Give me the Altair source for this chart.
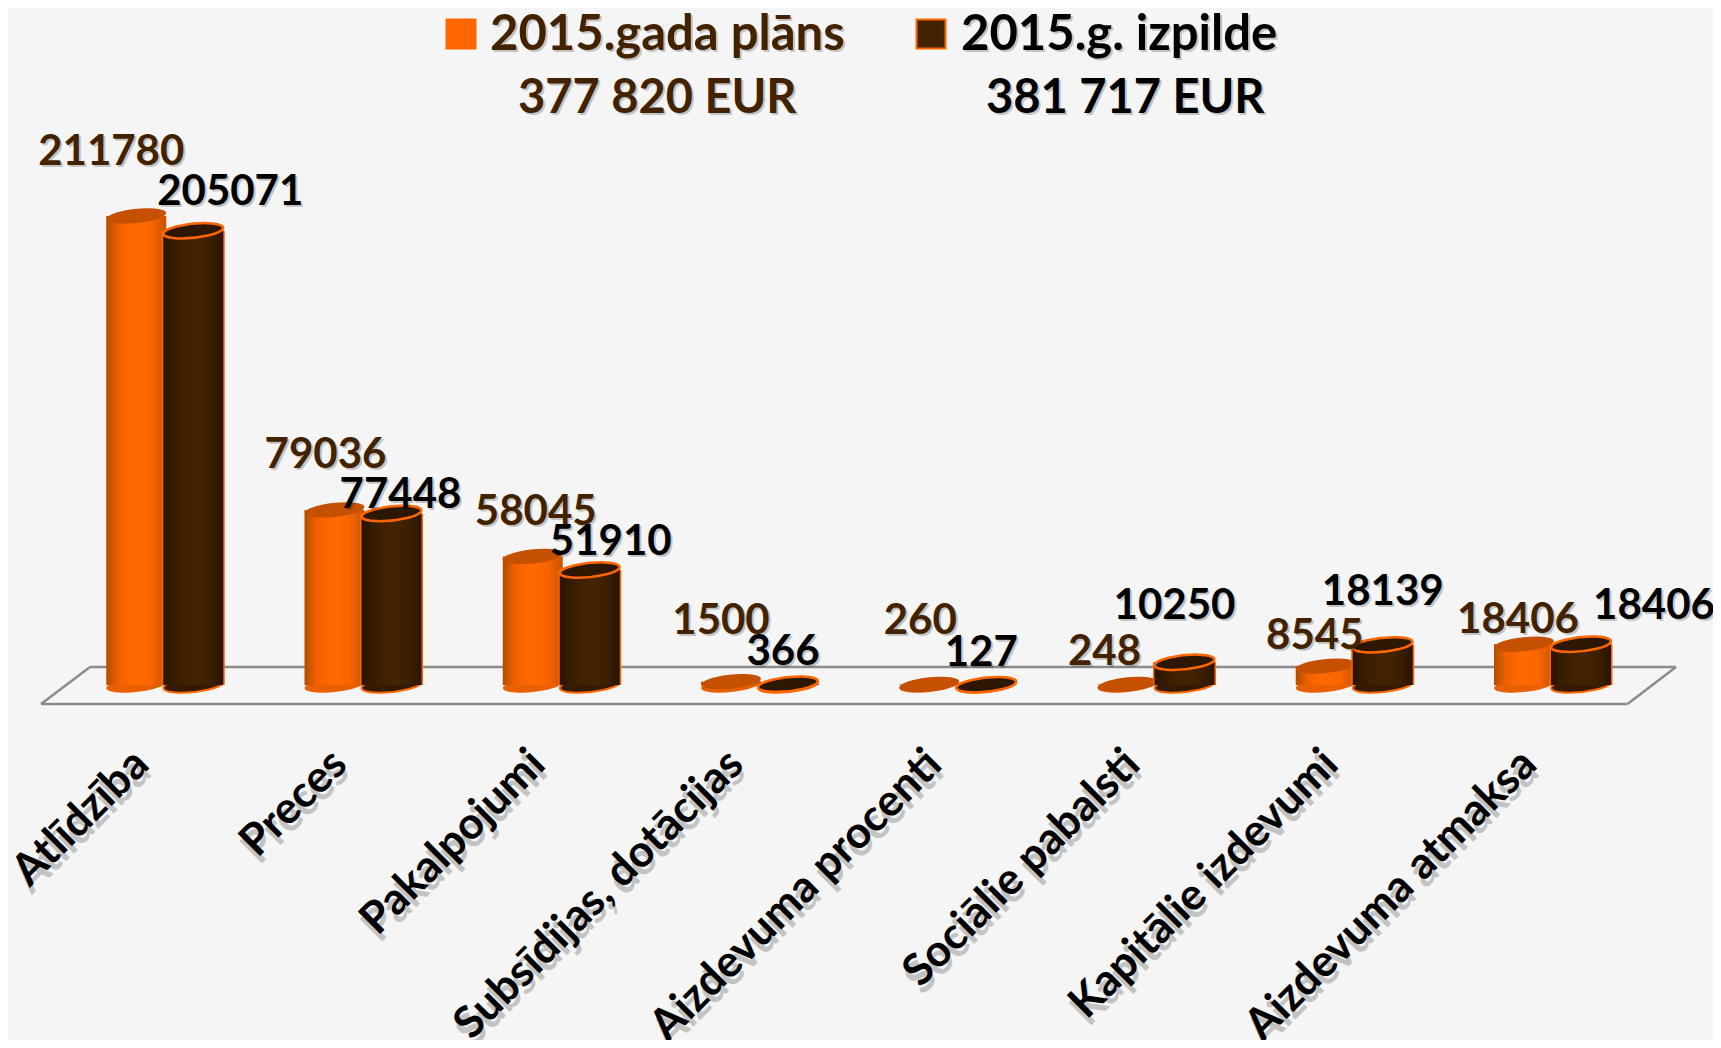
import altair as alt
import pandas as pd

categories = ["Atlīdzība", "Preces", "Pakalpojumi", "Subsīdijas, dotācijas",
              "Aizdevuma procenti", "Sociālie pabalsti", "Kapitālie izdevumi", "Aizdevuma atmaksa"]
plan = [211780, 79036, 58045, 1500, 260, 248, 8545, 18406]
actual = [205071, 77448, 51910, 366, 127, 10250, 18139, 18406]
series_names = ["2015.gada plāns", "2015.g. izpilde"]
series_totals = ["377 820 EUR", "381 717 EUR"]
# label nudges relative to each bar's top centre
plan_dx = [-25, -9, 3, -10, -9, -23, -11, -6]
plan_dy = [-64, -55, -44, -61, -63, -32, -30, -24]
actual_dx = [37, 9, 21, -5, -5, -10, 0, 73]
actual_dy = [-39, -18, -28, -32, -32, -56, -53, -38]

ORANGE = "#ff6600"
BROWN = "#432200"
BG = "#f5f5f5"
FONT = "Lato"
LABEL_SIZE = 42
AXIS_SIZE = 44
OFFSET = 28.5
BAR_W = 60

ELLIPSE = ("M-0.9945,0.1045A1,0.233 -6 1 1 0.9945,-0.1045"
           "A1,0.233 -6 1 1 -0.9945,0.1045Z")
ELLIPSE_SIZE = BAR_W ** 2

orange_grad = alt.Gradient(gradient="linear", x1=0, x2=1, y1=0, y2=0, stops=[
    alt.GradientStop(color="#b04e00", offset=0),
    alt.GradientStop(color="#f06000", offset=0.2),
    alt.GradientStop(color="#ff6a00", offset=0.45),
    alt.GradientStop(color="#f86400", offset=0.75),
    alt.GradientStop(color="#c85400", offset=1)])
dark_grad = alt.Gradient(gradient="linear", x1=0, x2=1, y1=0, y2=0, stops=[
    alt.GradientStop(color="#2a1500", offset=0),
    alt.GradientStop(color="#3e2000", offset=0.3),
    alt.GradientStop(color="#452400", offset=0.55),
    alt.GradientStop(color="#3a1e00", offset=0.8),
    alt.GradientStop(color="#2a1500", offset=1)])

plan_df = pd.DataFrame({"cat": categories, "v": plan, "lbl": [str(v) for v in plan], "zero": 0})
actual_df = pd.DataFrame({"cat": categories, "v": actual, "lbl": [str(v) for v in actual], "zero": 0})

x_enc = alt.X("cat:N", sort=categories, title=None,
              scale=alt.Scale(type="band", domain=categories, range=[57.625, 1643.625],
                              paddingInner=0, paddingOuter=0),
              axis=alt.Axis(labelAngle=-45, labelFont=FONT, labelFontWeight="bold",
                            labelFontSize=AXIS_SIZE, labelColor="black", labelAlign="right",
                            labelBaseline="middle", labelPadding=53, labelOffset=-23,
                            labelOverlap=False, labelLimit=0, labelFlush=False,
                            domain=False, ticks=False, grid=False, zindex=1))
y_scale = alt.Scale(domain=[0, 300000], range=[677, 12.5], nice=False, zero=False)
y_enc = alt.Y("v:Q", scale=y_scale, axis=None)
y0_enc = alt.Y("zero:Q", scale=y_scale, axis=None)


def frame(x1, y1, x2, y2):
    return alt.Chart(plan_df.head(1)).mark_rule(color="#8c8c8c", strokeWidth=2.5).encode(
        x=alt.value(x1), y=alt.value(y1), x2=alt.value(x2), y2=alt.value(y2))


def cylinder(df, off, grad, top_fill, bottom_fill, outline):
    parts = []
    if outline:
        parts.append(alt.Chart(df).mark_bar(width=BAR_W + 3, xOffset=off, color=ORANGE).encode(
            x=x_enc, y=y_enc, y2=alt.Y2("zero:Q")))
    parts.append(alt.Chart(df).mark_point(
        shape=ELLIPSE, size=ELLIPSE_SIZE, filled=True, opacity=1, fill=bottom_fill, xOffset=off,
        stroke=ORANGE if outline else bottom_fill, strokeWidth=2 if outline else 0).encode(
        x=x_enc, y=y0_enc))
    parts.append(alt.Chart(df).mark_bar(width=BAR_W, xOffset=off, fill=grad).encode(
        x=x_enc, y=y_enc, y2=alt.Y2("zero:Q")))
    parts.append(alt.Chart(df).mark_point(
        shape=ELLIPSE, size=ELLIPSE_SIZE, filled=True, opacity=1, fill=top_fill, xOffset=off,
        stroke=ORANGE if outline else top_fill, strokeWidth=2.5 if outline else 0).encode(
        x=x_enc, y=y_enc))
    return parts


def value_labels(df, off, dxs, dys, color):
    parts = []
    base = dict(font=FONT, fontWeight="bold", fontSize=LABEL_SIZE, align="center", baseline="middle")
    enc = dict(x=x_enc, y=y_enc, text="lbl:N")
    for i in range(len(df)):
        row = df.iloc[[i]]
        parts.append(alt.Chart(row).mark_text(
            color="#000000", opacity=0.2, xOffset=off + dxs[i] + 2, yOffset=dys[i] + 2, **base).encode(**enc))
        parts.append(alt.Chart(row).mark_text(
            color=color, xOffset=off + dxs[i], yOffset=dys[i], **base).encode(**enc))
    return parts


def legend_text(text, x, y, color, size):
    df = pd.DataFrame({"t": [text]})
    base = dict(font=FONT, fontWeight="bold", fontSize=size, align="left", baseline="middle")
    return [
        alt.Chart(df).mark_text(color="#000000", opacity=0.2, **base).encode(
            x=alt.value(x + 2), y=alt.value(y + 2), text="t:N"),
        alt.Chart(df).mark_text(color=color, **base).encode(
            x=alt.value(x), y=alt.value(y), text="t:N"),
    ]


def legend_square(x, y, fill, stroke):
    df = pd.DataFrame({"t": [1]})
    return alt.Chart(df).mark_square(size=29 * 29, fill=fill, stroke=stroke, strokeWidth=2, opacity=1).encode(
        x=alt.value(x), y=alt.value(y))


# shadow of the rotated category labels
shadow_axis = alt.Chart(plan_df).mark_text(
    font=FONT, fontWeight="bold", fontSize=AXIS_SIZE, angle=315, align="right", baseline="middle",
    color="#000000", opacity=0.2, xOffset=-21, yOffset=2).encode(
    x=x_enc, y=alt.value(696 + 59), text="cat:N")

layers = [
    frame(33, 696, 1619.5, 696),
    frame(82, 659, 1668, 659),
    frame(33, 696, 82, 659),
    frame(1619.5, 696, 1668, 659),
]
layers += cylinder(plan_df, -OFFSET, orange_grad, "#c45000", "#e86000", False)
layers += cylinder(actual_df, OFFSET, dark_grad, "#2e1700", "#341a00", True)
layers += value_labels(plan_df, -OFFSET, plan_dx, plan_dy, BROWN)
layers += value_labels(actual_df, OFFSET, actual_dx, actual_dy, "black")
layers += [legend_square(453, 26, ORANGE, ORANGE), legend_square(923, 26, BROWN, ORANGE)]
layers += legend_text(series_names[0], 482, 27, BROWN, 49)
layers += legend_text(series_names[1], 953, 27, "black", 49)
layers += legend_text(series_totals[0], 510, 91, BROWN, 47)
layers += legend_text(series_totals[1], 978, 91, "black", 47)
layers.append(shadow_axis)

chart = alt.layer(*layers).resolve_scale(x="shared", y="shared").properties(
    width=1705, height=696,
    padding={"left": 0, "top": 0, "right": 0, "bottom": 336},
    autosize=alt.AutoSizeParams(type="none"),
    background=BG,
).configure_view(stroke=None)

chart.save("out.html", embed_options={"renderer": "svg", "actions": False})
